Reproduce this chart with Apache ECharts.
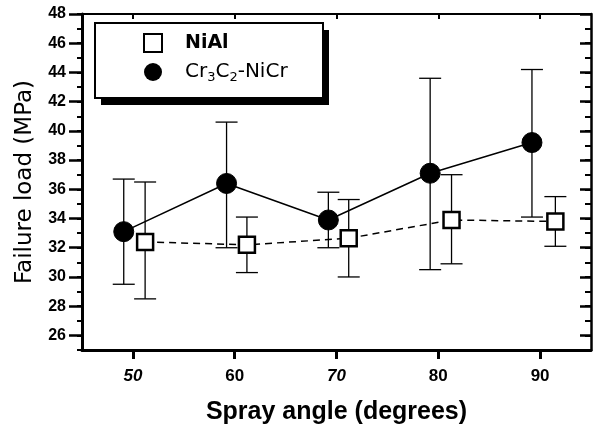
<!DOCTYPE html>
<html>
<head>
<meta charset="utf-8">
<script src="https://cdn.jsdelivr.net/npm/echarts@6/dist/echarts.min.js"></script>
<style>
  html, body { margin: 0; padding: 0; background: #fff; }
  #chart { width: 606px; height: 430px; }
</style>
</head>
<body>
<div id="chart"></div>
<script>
// Spray angle (degrees) of each measurement, per coating
const angleNiAl = [51.2, 61.2, 71.2, 81.3, 91.5];
const angleCr = [49.1, 59.2, 69.2, 79.2, 89.2];

// Mean failure load (MPa) and error-bar limits
const loadNiAl = [32.4, 32.2, 32.65, 33.9, 33.8];
const lowNiAl = [28.5, 30.3, 30.0, 30.9, 32.1];
const highNiAl = [36.5, 34.1, 35.3, 37.0, 35.5];

const loadCr = [33.1, 36.4, 33.9, 37.1, 39.2];
const lowCr = [29.5, 32.0, 32.0, 30.5, 34.1];
const highCr = [36.7, 40.6, 35.8, 43.6, 44.2];

// Axis tick values
const xTicks = [50, 60, 70, 80, 90];
const xItalic = [50, 70];
const yMajor = [26, 28, 30, 32, 34, 36, 38, 40, 42, 44, 46, 48];

const seriesNames = ['NiAl', 'Cr3C2-NiCr'];

const pairs = (xs, ys) => xs.map((x, i) => [x, ys[i]]);
const bars = (xs, lo, hi) => xs.map((x, i) => [x, lo[i], hi[i]]);

function errorBar(params, api) {
  const x = api.value(0);
  const pLo = api.coord([x, api.value(1)]);
  const pHi = api.coord([x, api.value(2)]);
  const w = 11;
  const st = { stroke: '#000', lineWidth: 1.3 };
  return {
    type: 'group',
    children: [
      { type: 'line', shape: { x1: pLo[0], y1: pLo[1], x2: pHi[0], y2: pHi[1] }, style: st },
      { type: 'line', shape: { x1: pLo[0] - w, y1: pLo[1], x2: pLo[0] + w, y2: pLo[1] }, style: st },
      { type: 'line', shape: { x1: pHi[0] - w, y1: pHi[1], x2: pHi[0] + w, y2: pHi[1] }, style: st }
    ]
  };
}

const black = '#000';
const sansFont = 'Liberation Sans';
const roundFont = 'DejaVu Sans';

const chart = echarts.init(document.getElementById('chart'), null, { renderer: 'canvas' });

chart.setOption({
  backgroundColor: '#fff',
  animation: false,
  grid: { left: 82, right: 15, top: 14, bottom: 80 },
  graphic: [
    { type: 'rect', z: 1, shape: { x: 101, y: 30, width: 228, height: 75 }, style: { fill: black } },
    { type: 'rect', z: 2, shape: { x: 95, y: 23, width: 228, height: 75 }, style: { fill: '#fff', stroke: black, lineWidth: 2 } }
  ],
  legend: {
    z: 10,
    orient: 'vertical',
    left: 138,
    top: 28,
    itemWidth: 18,
    itemHeight: 18,
    itemGap: 9,
    data: [
      { name: seriesNames[0], icon: 'rect' },
      { name: seriesNames[1], icon: 'circle' }
    ],
    formatter: function (name) {
      if (name === 'NiAl') return '{b|NiAl}';
      return '{n|Cr}{s|3}{n|C}{s|2}{n|-NiCr}';
    },
    textStyle: {
      padding: [0, 0, 0, 18],
      rich: {
        b: { fontFamily: roundFont, fontWeight: 'bold', fontSize: 19, color: black, lineHeight: 24 },
        n: { fontFamily: roundFont, fontSize: 20, color: black, lineHeight: 24 },
        s: { fontFamily: roundFont, fontSize: 13, color: black, lineHeight: 13, verticalAlign: 'bottom' }
      }
    }
  },
  xAxis: [
    {
      type: 'value',
      position: 'bottom',
      min: 45,
      max: 95,
      splitLine: { show: false },
      axisLine: { show: true, onZero: false, lineStyle: { color: black, width: 3 } },
      axisTick: { show: true, customValues: xTicks, length: 9, lineStyle: { color: black, width: 3 } },
      axisLabel: {
        customValues: xTicks,
        margin: 18,
        formatter: function (v) {
          return xItalic.indexOf(v) >= 0 ? '{i|' + v + '}' : '{r|' + v + '}';
        },
        rich: {
          i: { fontFamily: sansFont, fontStyle: 'italic', fontWeight: 'bold', fontSize: 17, color: black },
          r: { fontFamily: sansFont, fontWeight: 'bold', fontSize: 17, color: black }
        }
      },
      name: 'Spray angle (degrees)',
      nameLocation: 'middle',
      nameGap: 50,
      nameTextStyle: { fontFamily: sansFont, fontWeight: 'bold', fontSize: 25, color: black }
    },
    {
      type: 'value',
      position: 'top',
      min: 45,
      max: 95,
      splitLine: { show: false },
      axisLine: { show: true, onZero: false, lineStyle: { color: black, width: 2 } },
      axisTick: { show: true, inside: true, customValues: xTicks, length: 5, lineStyle: { color: black, width: 2 } },
      axisLabel: { show: false }
    }
  ],
  yAxis: [
    {
      type: 'value',
      position: 'left',
      min: 25,
      max: 48,
      interval: 1,
      splitLine: { show: false },
      axisLine: { show: true, onZero: false, lineStyle: { color: black, width: 3 } },
      axisTick: { show: true, length: 5, lineStyle: { color: black, width: 2 } },
      axisLabel: {
        margin: 16,
        fontFamily: sansFont,
        fontWeight: 'bold',
        fontSize: 16,
        color: black,
        formatter: function (v) { return yMajor.indexOf(v) >= 0 ? String(v) : ''; }
      },
      name: 'Failure load (MPa)',
      nameLocation: 'middle',
      nameGap: 45,
      nameTextStyle: { fontFamily: roundFont, fontSize: 23, color: black }
    },
    {
      type: 'value',
      position: 'left',
      min: 25,
      max: 48,
      splitLine: { show: false },
      axisLine: { show: false },
      axisTick: { show: true, customValues: yMajor, length: 13, lineStyle: { color: black, width: 2.5 } },
      axisLabel: { show: false }
    },
    {
      type: 'value',
      position: 'right',
      min: 25,
      max: 48,
      interval: 1,
      splitLine: { show: false },
      axisLine: { show: true, onZero: false, lineStyle: { color: black, width: 2.5 } },
      axisTick: { show: true, inside: true, length: 6, lineStyle: { color: black, width: 2 } },
      axisLabel: { show: false }
    },
    {
      type: 'value',
      position: 'right',
      min: 25,
      max: 48,
      splitLine: { show: false },
      axisLine: { show: false },
      axisTick: { show: true, inside: true, customValues: yMajor, length: 11, lineStyle: { color: black, width: 2.5 } },
      axisLabel: { show: false }
    }
  ],
  series: [
    {
      type: 'custom',
      name: 'NiAl error',
      xAxisIndex: 0,
      yAxisIndex: 0,
      z: 2,
      renderItem: errorBar,
      encode: { x: 0, y: [1, 2] },
      data: bars(angleNiAl, lowNiAl, highNiAl)
    },
    {
      type: 'custom',
      name: 'Cr error',
      xAxisIndex: 0,
      yAxisIndex: 0,
      z: 2,
      renderItem: errorBar,
      encode: { x: 0, y: [1, 2] },
      data: bars(angleCr, lowCr, highCr)
    },
    {
      type: 'line',
      name: seriesNames[0],
      xAxisIndex: 0,
      yAxisIndex: 0,
      z: 4,
      symbol: 'rect',
      symbolSize: 16,
      itemStyle: { color: '#fff', borderColor: black, borderWidth: 2.5 },
      lineStyle: { color: black, width: 1.5, type: [7, 5] },
      data: pairs(angleNiAl, loadNiAl)
    },
    {
      type: 'line',
      name: seriesNames[1],
      xAxisIndex: 0,
      yAxisIndex: 0,
      z: 4,
      symbol: 'circle',
      symbolSize: 20,
      itemStyle: { color: black, borderColor: black },
      lineStyle: { color: black, width: 1.5 },
      data: pairs(angleCr, loadCr)
    }
  ]
});
</script>
</body>
</html>
